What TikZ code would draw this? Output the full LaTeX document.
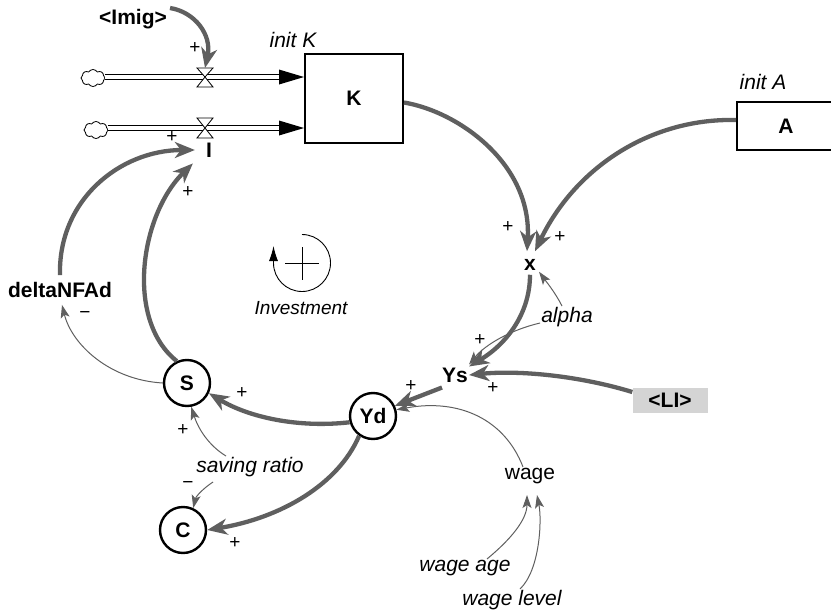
\documentclass[tikz,border=0pt]{standalone}
\usepackage{fontspec}
\setmainfont{Liberation Sans}
\usetikzlibrary{arrows.meta,shapes.symbols,calc}
\definecolor{arr}{HTML}{5F5F5F}
\definecolor{lig}{HTML}{D4D4D4}
\begin{document}
\begin{tikzpicture}[x=1pt,y=1pt,
  lbl/.style={font=\fontsize{21}{23}\selectfont\bfseries, inner sep=1},
  itl/.style={font=\fontsize{21}{23}\selectfont\itshape, inner sep=1},
  reg/.style={font=\fontsize{21}{23}\selectfont, inner sep=1},
  sgn/.style={font=\fontsize{19}{20}\selectfont, inner sep=0},
  circ/.style={circle, draw, line width=2.4, minimum size=46, inner sep=0, font=\fontsize{21}{23}\selectfont\bfseries},
  stock/.style={draw, line width=2, inner sep=0, font=\fontsize{21}{23}\selectfont\bfseries},
  tharrow/.style={draw=arr, line width=4.3, -{Stealth[length=20,width=16,inset=6]}},
  tnarrow/.style={draw=arr, line width=1, -{Stealth[length=13,width=9,inset=3]}},
  pipe/.style={draw=black, line width=1, double=white, double distance=3.5},
  cloudn/.style={cloud, draw, cloud puffs=8, cloud puff arc=120, aspect=1.4, minimum width=24, minimum height=17, inner sep=0, line width=0.8},
  valve/.style={draw, fill=white, line width=0.8}
]
\useasboundingbox (0,0) rectangle (831,-616);

% nodes
\node[lbl] (imig) at (133,-19) {<Imig>};
\node[itl] (initK) at (293,-40) {init K};
\node[stock, minimum width=98, minimum height=89] (K) at (354,-98.5) {K};
\node[itl] (initA) at (763,-82) {init A};
\node[stock, minimum width=98, minimum height=48] (A) at (786,-126) {A};
\node[lbl] (I) at (209,-150) {I};
\node[lbl] (x) at (530,-265) {x};
\node[itl] (alpha) at (567,-317) {alpha};
\node[lbl] (Ys) at (455,-375) {Ys};
\node[lbl, fill=lig, minimum width=75, minimum height=25] (LI) at (670,-400) {<LI>};
\node[circ] (Yd) at (373,-416) {Yd};
\node[circ] (S) at (187,-383) {S};
\node[circ] (C) at (183,-530) {C};
\node[itl] (sr) at (250,-467) {saving ratio};
\node[reg] (wage) at (530,-476) {wage};
\node[itl] (wa) at (465,-568) {wage age};
\node[itl] (wl) at (512,-600) {wage level};
\node[lbl] (dn) at (60,-290) {deltaNFAd};
\node[itl, font=\fontsize{19}{21}\selectfont\itshape] (inv) at (301,-308) {Investment};

% flows
\node[cloudn] (cl1) at (93,-78) {};
\node[cloudn] (cl2) at (96,-130) {};
\coordinate (v1) at (205,-77);
\coordinate (v2) at (205,-128);
\draw[pipe, shorten >=24] (cl1.east |- v1) -- (K.west |- v1);
\draw[pipe, shorten >=24] (cl2.east |- v2) -- (K.west |- v2);
\fill (K.west |- v1) -- ++(-25,7.5) -- ++(0,-15) -- cycle;
\fill (K.west |- v2) -- ++(-25,7.5) -- ++(0,-15) -- cycle;
\draw[valve] ($(v1)+(-8,9)$) -- ($(v1)+(8,9)$) -- (v1) -- cycle;
\draw[valve] ($(v1)+(-8,-10)$) -- ($(v1)+(8,-10)$) -- (v1) -- cycle;
\draw[valve] ($(v2)+(-8,10)$) -- ($(v2)+(8,10)$) -- (v2) -- cycle;
\draw[valve] ($(v2)+(-8,-10)$) -- ($(v2)+(8,-10)$) -- (v2) -- cycle;

% loop symbol
\coordinate (loop) at (302,-263);
\draw[line width=0.9, -{Latex[length=15,width=9]}] ($(loop)+(90:28.5)$) arc[start angle=90, end angle=-180, radius=28.5] -- ++(0,17);
\draw[line width=1] ($(loop)+(-17,0)$) -- ($(loop)+(17,0)$);
\draw[line width=1] ($(loop)+(0,16)$) -- ($(loop)+(0,-17)$);

% thick links
\draw[tharrow] ([xshift=2,yshift=11]imig.east) .. controls (195,-12) and (212,-35) .. ([yshift=9]v1);
\draw[tharrow] ([yshift=6]dn.north) .. controls (58,-200) and (120,-150) .. ([xshift=-10]I.west);
\draw[tharrow] (S.115) .. controls (125,-320) and (140,-215) .. ([xshift=-12,yshift=-5]I.south west);
\draw[tharrow] ([yshift=-4]K.east) .. controls (460,-112) and (532,-165) .. ([xshift=-3,yshift=7]x.north);
\draw[tharrow] ([yshift=6]A.west) .. controls (650,-118) and (575,-168) .. ([xshift=5,yshift=7]x.north);
\draw[tharrow] ([yshift=-3]x.south) .. controls (530,-315) and (505,-345) .. (Ys.north east);
\draw[tharrow] ([yshift=8]LI.west) .. controls (580,-376) and (520,-370) .. (Ys.east);
\draw[tharrow] ([xshift=-13,yshift=-4]Ys.south) -- (Yd.25);
\draw[tharrow] (Yd.195) .. controls (300,-428) and (250,-418) .. (S.-25);
\draw[tharrow] (Yd.235) .. controls (338,-485) and (280,-518) .. (C.east);

% thin links
\draw[tnarrow] ([xshift=-5]alpha.north) .. controls (555,-292) and (545,-280) .. ([xshift=2]x.south east);
\draw[tnarrow] ([yshift=-6]alpha.west) .. controls (510,-330) and (485,-345) .. ([yshift=2]Ys.north east);
\draw[tnarrow] ([xshift=-7]wage.north) .. controls (505,-420) and (460,-398) .. (Yd.15);
\draw[tnarrow] ([xshift=22]wa.north) .. controls (510,-540) and (527,-520) .. ([xshift=-3,yshift=-10]wage.south);
\draw[tnarrow] ([xshift=8]wl.north) .. controls (540,-570) and (542,-520) .. ([xshift=7,yshift=-10]wage.south);
\draw[tnarrow] ([xshift=-24]sr.north) .. controls (208,-445) and (198,-428) .. (S.-80);
\draw[tnarrow] ([xshift=18,yshift=-4]sr.south west) .. controls (205,-487) and (196,-496) .. (C.65);
\draw[tnarrow] (S.west) .. controls (110,-380) and (72,-345) .. ([xshift=2,yshift=-6]dn.south);

% polarity signs
\node[sgn] at (195,-48) {+};
\node[sgn] at (172,-137) {+};
\node[sgn] at (188,-192) {+};
\node[sgn] at (508,-227) {+};
\node[sgn] at (560,-237) {+};
\node[sgn] at (480,-340) {+};
\node[sgn] at (493,-388) {+};
\node[sgn] at (411,-386) {+};
\node[sgn] at (242,-393) {+};
\node[sgn] at (183,-430) {+};
\node[sgn] at (188,-485) {−};
\node[sgn] at (235,-543) {+};
\node[sgn] at (85,-315) {−};
\end{tikzpicture}
\end{document}
